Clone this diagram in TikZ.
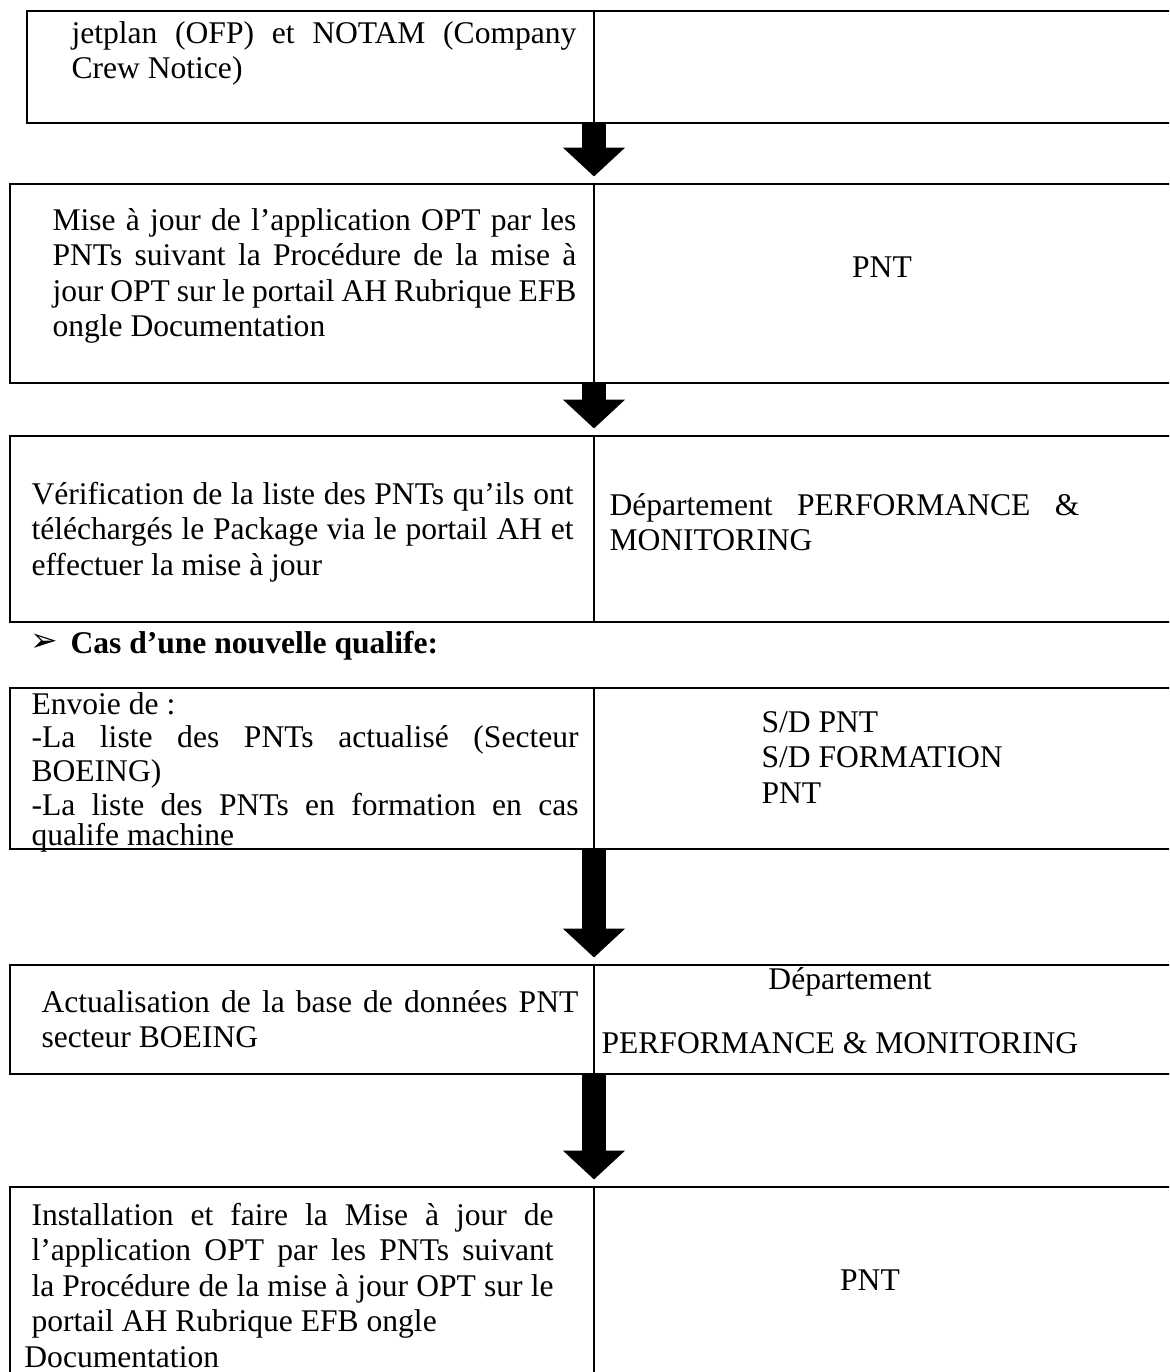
\documentclass[tikz,border=0pt]{standalone}
\usepackage{fontspec}
\setmainfont{Liberation Serif}
\newfontfamily\puceFont{DejaVu Sans}
\usetikzlibrary{arrows.meta, fit, positioning}
\newcommand{\jl}[1]{\makebox[\linewidth][s]{#1}}

\begin{document}
\begin{tikzpicture}[x=0.38pt,y=-0.38pt,font=\fontsize{12}{13.5}\selectfont]
\tikzstyle{row}=[draw=black,line width=1.1pt,inner sep=0pt]
\tikzstyle{divider}=[-,line width=0.6pt]
\tikzstyle{flow}=[-{Triangle[width=23pt,length=11pt]},line width=9pt,shorten >=2.3pt]
\tikzstyle{cell}=[inner sep=0pt,anchor=base west]
\tikzstyle{label}=[inner sep=0pt]

\clip (0,0) rectangle (1169,1372);
\coordinate (dv) at (594,0);

% rows of the table
\node[row, fit={(27,11) (1190,123)}] (row1) {};
\node[row, fit={(10,184) (1190,383)}] (row2) {};
\node[row, fit={(10,436) (1190,622)}] (row3) {};
\node[row, fit={(10,688) (1190,849)}] (row4) {};
\node[row, fit={(10,965) (1190,1074)}] (row5) {};
\node[row, fit={(10,1187) (1190,1395)}] (row6) {};

\foreach \r in {row1,row2,row3,row4,row5,row6}
  \draw[divider] (\r.north -| dv) -- (\r.south -| dv);

% left column
\node[cell] (jet) at (71,43) {\parbox[t]{191.9pt}{\jl{jetplan (OFP) et NOTAM (Company}\\Crew Notice)}};
\node[cell] (maj) at (52,230) {\parbox[t]{199.1pt}{%
  \jl{Mise à jour de l’application OPT par les}\\
  \jl{PNTs suivant la Procédure de la mise à}\\
  \jl{jour OPT sur le portail AH Rubrique EFB}\\
  ongle Documentation}};
\node[cell] (verif) at (31,504) {\parbox[t]{206pt}{%
  \jl{Vérification de la liste des PNTs qu’ils ont}\\
  \jl{téléchargés le Package via le portail AH et}\\
  effectuer la mise à jour}};
\node[cell] (envoi) at (31,714) {\parbox[t]{207.9pt}{\fontsize{12}{12.8}\selectfont
  Envoie de :\\
  \jl{-La liste des PNTs actualisé (Secteur}\\
  BOEING)\\
  \jl{-La liste des PNTs en formation en cas}\\[-1.3pt]
  qualife machine}};
\node[cell] (actu) at (41,1012) {\parbox[t]{204pt}{%
  \jl{Actualisation de la base de données PNT}\\
  secteur BOEING}};
\node[cell] (inst) at (31,1225) {\parbox[t]{198.4pt}{%
  \jl{Installation et faire la Mise à jour de}\\
  \jl{l’application OPT par les PNTs suivant}\\
  \jl{la Procédure de la mise à jour OPT sur le}\\
  portail AH Rubrique EFB ongle\\
  \hspace*{-2.7pt}Documentation}};

% right column
\node[label] (pnt2) at (882,267) {PNT};
\node[cell] (dep3) at (609,515) {\parbox[t]{178.6pt}{\jl{Département PERFORMANCE \&}\\MONITORING}};
\node[cell] (sd4) at (761,732) {\parbox[t]{150pt}{S/D PNT\\S/D FORMATION\\PNT}};
\node[label] (dep5) at (850,982) {Département};
\node[cell] (pm5) at (601,1053) {PERFORMANCE \& MONITORING};
\node[label] (pnt6) at (870,1280) {PNT};

% heading
\node[label, anchor=west] (puce) at (30,643) {\puceFont\fontsize{12.5}{12.5}\selectfont ➢};
\node[cell] (cas) at (70,653) {\textbf{Cas d’une nouvelle qualife:}};

% arrows
\draw[flow] (row1.south -| dv) -- (row2.north -| dv);
\draw[flow] (row2.south -| dv) -- (row3.north -| dv);
\draw[flow] (row4.south -| dv) -- (row5.north -| dv);
\draw[flow] (row5.south -| dv) -- (row6.north -| dv);
\end{tikzpicture}
\end{document}
